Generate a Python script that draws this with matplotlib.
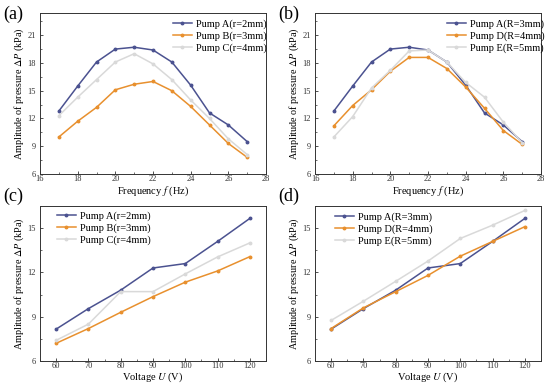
import matplotlib
matplotlib.use("Agg")
import matplotlib.pyplot as plt
from matplotlib.ticker import MultipleLocator, AutoMinorLocator

plt.rcParams['font.family'] = ['Liberation Serif', 'DejaVu Serif']
plt.rcParams['mathtext.fontset'] = 'stix'

freq = [17, 18, 19, 20, 21, 22, 23, 24, 25, 26, 27]
volt = [60, 70, 80, 90, 100, 110, 120]

a_pumpA = [12.8, 15.5, 18.1, 19.5, 19.7, 19.4, 18.1, 15.6, 12.6, 11.3, 9.5]
a_pumpB = [10.0, 11.7, 13.2, 15.1, 15.7, 16.0, 15.0, 13.3, 11.3, 9.3, 7.8]
a_pumpC = [12.3, 14.3, 16.2, 18.1, 19.0, 17.9, 16.2, 14.0, 12.0, 9.8, 8.1]

b_pumpA = [12.8, 15.5, 18.1, 19.5, 19.7, 19.4, 18.1, 15.6, 12.6, 11.3, 9.5]
b_pumpD = [11.2, 13.4, 15.1, 17.1, 18.6, 18.6, 17.4, 15.4, 13.1, 10.7, 9.2]
b_pumpE = [10.0, 12.2, 15.3, 17.2, 19.3, 19.4, 18.1, 15.9, 14.3, 11.6, 9.4]

c_pumpA = [8.16, 9.55, 10.8, 12.3, 12.6, 14.1, 15.66]
c_pumpB = [7.2, 8.2, 9.3, 10.36, 11.34, 12.1, 13.07]
c_pumpC = [7.4, 8.5, 10.7, 10.7, 11.9, 13.05, 14.0]

d_pumpA = [8.16, 9.55, 10.8, 12.3, 12.6, 14.1, 15.66]
d_pumpD = [8.2, 9.6, 10.7, 11.8, 13.1, 14.1, 15.1]
d_pumpE = [8.75, 10.05, 11.4, 12.77, 14.3, 15.2, 16.2]

labels_a = ['Pump A(r=2mm)', 'Pump B(r=3mm)', 'Pump C(r=4mm)']
labels_b = ['Pump A(R=3mm)', 'Pump D(R=4mm)', 'Pump E(R=5mm)']

colors = ['#4b5290', '#e8902e', '#d9d9d9']

fig = plt.figure(figsize=(5.5, 3.86), dpi=100)
W, H = 550, 386

boxes = [(40, 13, 266, 174), (315, 13, 541, 174),
         (40, 206, 266, 361), (315, 206, 541, 361)]
axes = [fig.add_axes([l / W, 1 - b / H, (r - l) / W, (b - t) / H]) for (l, t, r, b) in boxes]

panels = [
    (freq, [a_pumpA, a_pumpB, a_pumpC], labels_a, '(a)'),
    (freq, [b_pumpA, b_pumpD, b_pumpE], labels_b, '(b)'),
    (volt, [c_pumpA, c_pumpB, c_pumpC], labels_a, '(c)'),
    (volt, [d_pumpA, d_pumpD, d_pumpE], labels_b, '(d)'),
]
# legend anchor (pixel x of handle start, pixel y of legend top)
leg_px = [(173, 19), (447, 19), (57, 211), (335, 212)]
tag_px = [(3, 14), (278, 14), (3, 196), (278, 196)]
xlab_px = [191, 191, 377, 377]

for i, (ax, (x, ys, labs, tag)) in enumerate(zip(axes, panels)):
    l, t, r, b = boxes[i]
    for y, lab, c in zip(ys, labs, colors):
        ax.plot(x, y, color=c, lw=1.1, marker='o', ms=1.8, label=lab)
    if i < 2:
        ax.set_xlim(16, 28)
        ax.set_ylim(6, 23.4)
        ax.xaxis.set_major_locator(MultipleLocator(2))
        ax.yaxis.set_major_locator(MultipleLocator(3))
        ax.set_xlabel(r'Frequency $f$ (Hz)', fontsize=7.5)
    else:
        ax.set_xlim(55, 125)
        ax.set_ylim(6, 16.5)
        ax.xaxis.set_major_locator(MultipleLocator(10))
        ax.yaxis.set_major_locator(MultipleLocator(3))
        ax.set_xlabel(r'Voltage $U$ (V)', fontsize=7.5)
    ax.xaxis.set_label_coords(0.5, -(xlab_px[i] - b) / (b - t))
    ax.xaxis.label.set_va('center')
    ax.xaxis.set_minor_locator(AutoMinorLocator(2))
    ax.yaxis.set_minor_locator(AutoMinorLocator(2))
    ax.tick_params(which='both', direction='in', labelsize=6, colors='#333333')
    ax.tick_params(axis='x', which='both', pad=1)
    ax.tick_params(axis='y', which='both', pad=3)
    ax.tick_params(which='major', length=2.5, width=0.6)
    ax.tick_params(which='minor', length=1.5, width=0.5)
    for s in ax.spines.values():
        s.set_linewidth(0.7)
        s.set_color('#333333')
    ax.set_ylabel(r'Amplitude of pressure $\Delta P$ (kPa)', fontsize=7.3)
    ax.yaxis.set_label_coords(-21 / (r - l), 0.5)
    ax.yaxis.label.set_va('center')
    lx, ly = leg_px[i]
    ax.legend(loc='upper left', bbox_to_anchor=((lx - l) / (r - l), 1 - (ly - t) / (b - t)),
              frameon=False, fontsize=7.5, handlelength=1.8, borderpad=0,
              handletextpad=0.4, labelspacing=0.25, borderaxespad=0)
    tx, ty = tag_px[i]
    fig.text(tx / W, 1 - ty / H, tag, fontsize=13, va='center', ha='left')

fig.savefig('out.png', dpi=100)
